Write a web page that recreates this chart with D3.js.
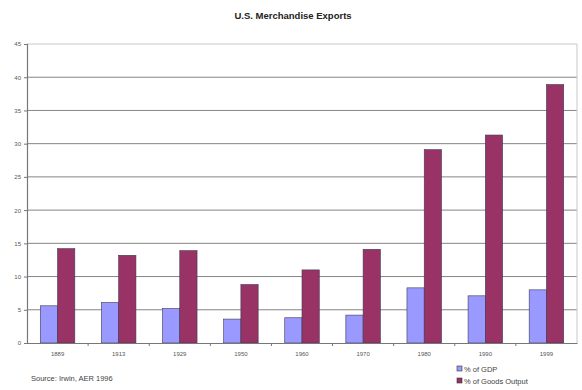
<!DOCTYPE html>
<html>
<head>
<meta charset="utf-8">
<script src="https://cdn.jsdelivr.net/npm/d3@7"></script>
<style>
  html, body { margin: 0; padding: 0; background: #fff; }
  svg { display: block; font-family: "Liberation Sans", Arial, sans-serif; }
</style>
</head>
<body>
<svg id="chart" width="582" height="390"></svg>
<script>
// Years on the category axis
const years = ["1889", "1913", "1929", "1950", "1960", "1970", "1980", "1990", "1999"];
// Merchandise exports as a share of GDP (%)
const gdpShare = [5.6, 6.1, 5.2, 3.6, 3.8, 4.2, 8.3, 7.1, 8.0];
// Merchandise exports as a share of goods output (%)
const goodsShare = [14.2, 13.2, 13.9, 8.8, 11.0, 14.1, 29.1, 31.3, 38.9];
// Value-axis ticks
const yTicks = [0, 5, 10, 15, 20, 25, 30, 35, 40, 45];
const seriesNames = ["% of GDP", "% of Goods Output"];
const seriesColors = ["#9999ff", "#993366"];

const svg = d3.select("#chart");
const margin = { left: 27, right: 5, top: 44, bottom: 47 };
const W = 582, H = 390;

const x0 = d3.scaleBand().domain(years).range([margin.left, W - margin.right]).padding(0);
const x1 = d3.scaleBand().domain(seriesNames).range([0, x0.bandwidth()]).paddingInner(0).paddingOuter(0.77);
const y = d3.scaleLinear().domain([0, 45]).range([H - margin.bottom, margin.top]);

// Title
svg.append("text")
  .attr("x", 293).attr("y", 19)
  .attr("text-anchor", "middle")
  .attr("font-size", 9.5).attr("font-weight", "bold").attr("fill", "#222")
  .text("U.S. Merchandise Exports");

// Horizontal gridlines
svg.append("g").selectAll("line")
  .data(yTicks.filter(t => t > 0 && t < 45))
  .join("line")
  .attr("x1", margin.left).attr("x2", W - margin.right)
  .attr("y1", d => y(d)).attr("y2", d => y(d))
  .attr("stroke", "#858585").attr("stroke-width", 1);

// Plot border (top and right)
svg.append("path")
  .attr("d", `M${margin.left},${y(45)}H${W - margin.right}V${y(0)}`)
  .attr("fill", "none").attr("stroke", "#c8c8c8").attr("stroke-width", 1);

// Bars
const data = years.map((yr, i) => ({ year: yr, values: [gdpShare[i], goodsShare[i]] }));
const groups = svg.append("g").selectAll("g")
  .data(data).join("g")
  .attr("transform", d => `translate(${x0(d.year)},0)`);
groups.selectAll("rect")
  .data(d => d.values.map((v, j) => ({ key: seriesNames[j], v, j })))
  .join("rect")
  .attr("x", d => x1(d.key))
  .attr("width", x1.bandwidth())
  .attr("y", d => y(d.v))
  .attr("height", d => y(0) - y(d.v))
  .attr("fill", d => seriesColors[d.j])
  .attr("stroke", "#3a3a55").attr("stroke-width", 0.6);

// Y axis
const yAxis = d3.axisLeft(y).tickValues(yTicks).tickSize(3).tickPadding(3);
const gy = svg.append("g").attr("transform", `translate(${margin.left},0)`).call(yAxis);
gy.select(".domain").attr("stroke", "#777").attr("stroke-width", 1.2);
gy.selectAll(".tick line").attr("stroke", "#777");
gy.selectAll(".tick text").attr("font-size", 6).attr("fill", "#555")
  .attr("font-family", "Liberation Sans, Arial, sans-serif");

// X axis
const xAxis = d3.axisBottom(x0).tickSize(0).tickPadding(9);
const gx = svg.append("g").attr("transform", `translate(0,${y(0)})`).call(xAxis);
gx.select(".domain").attr("stroke", "#777").attr("stroke-width", 1.2);
gx.selectAll(".tick text").attr("font-size", 6).attr("fill", "#555")
  .attr("font-family", "Liberation Sans, Arial, sans-serif");
// Category separators below the axis
svg.append("g").selectAll("line")
  .data(years.slice(1))
  .join("line")
  .attr("x1", d => x0(d)).attr("x2", d => x0(d))
  .attr("y1", y(0)).attr("y2", y(0) + 3)
  .attr("stroke", "#777");

// Source note
svg.append("text")
  .attr("x", 31).attr("y", 381)
  .attr("font-size", 7.5).attr("fill", "#444")
  .text("Source: Irwin, AER 1996");

// Legend
const legend = svg.append("g").attr("transform", "translate(457,366)");
seriesNames.forEach((name, i) => {
  const g = legend.append("g").attr("transform", `translate(0,${i * 12})`);
  g.append("rect").attr("width", 5).attr("height", 5)
    .attr("fill", seriesColors[i]).attr("stroke", "#333").attr("stroke-width", 0.6);
  g.append("text").attr("x", 7).attr("y", 5.5)
    .attr("font-size", 7.5).attr("fill", "#444").text(name);
});
</script>
</body>
</html>
